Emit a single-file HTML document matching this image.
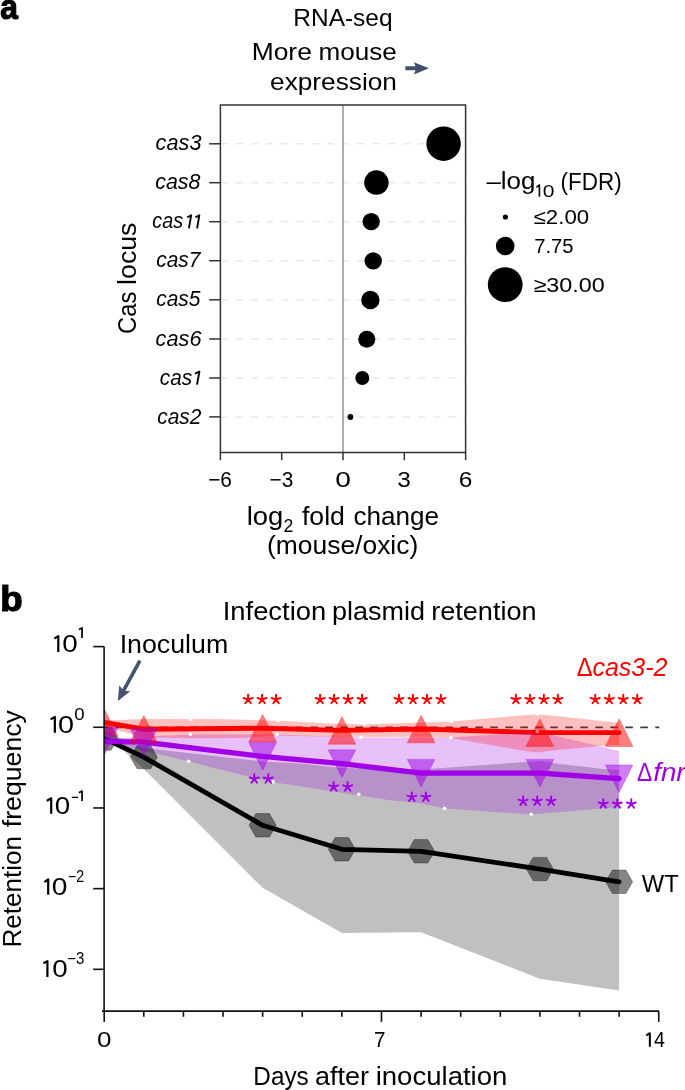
<!DOCTYPE html>
<html><head><meta charset="utf-8"><style>
html,body{margin:0;padding:0;background:#fff;width:685px;height:1090px;overflow:hidden}
svg{display:block;will-change:transform}
text{font-family:"Liberation Sans",sans-serif}
</style></head><body>
<svg width="685" height="1090" viewBox="0 0 685 1090">
<rect width="685" height="1090" fill="#fff"/>
<line x1="220.4" y1="143.8" x2="465.6" y2="143.8" stroke="#e9e9e9" stroke-width="1.5" stroke-dasharray="7.4 7.8"/>
<line x1="220.4" y1="182.7" x2="465.6" y2="182.7" stroke="#e9e9e9" stroke-width="1.5" stroke-dasharray="7.4 7.8"/>
<line x1="220.4" y1="221.7" x2="465.6" y2="221.7" stroke="#e9e9e9" stroke-width="1.5" stroke-dasharray="7.4 7.8"/>
<line x1="220.4" y1="260.7" x2="465.6" y2="260.7" stroke="#e9e9e9" stroke-width="1.5" stroke-dasharray="7.4 7.8"/>
<line x1="220.4" y1="299.8" x2="465.6" y2="299.8" stroke="#e9e9e9" stroke-width="1.5" stroke-dasharray="7.4 7.8"/>
<line x1="220.4" y1="339.0" x2="465.6" y2="339.0" stroke="#e9e9e9" stroke-width="1.5" stroke-dasharray="7.4 7.8"/>
<line x1="220.4" y1="378.0" x2="465.6" y2="378.0" stroke="#e9e9e9" stroke-width="1.5" stroke-dasharray="7.4 7.8"/>
<line x1="220.4" y1="416.9" x2="465.6" y2="416.9" stroke="#e9e9e9" stroke-width="1.5" stroke-dasharray="7.4 7.8"/>
<line x1="343" y1="105.0" x2="343" y2="452.5" stroke="#9a9a9a" stroke-width="1.6"/>
<rect x="220.4" y="105.0" width="245.20000000000002" height="347.5" fill="none" stroke="#333" stroke-width="1.5"/>
<line x1="209.2" y1="143.8" x2="220.4" y2="143.8" stroke="#333" stroke-width="1.5"/>
<line x1="209.2" y1="182.7" x2="220.4" y2="182.7" stroke="#333" stroke-width="1.5"/>
<line x1="209.2" y1="221.7" x2="220.4" y2="221.7" stroke="#333" stroke-width="1.5"/>
<line x1="209.2" y1="260.7" x2="220.4" y2="260.7" stroke="#333" stroke-width="1.5"/>
<line x1="209.2" y1="299.8" x2="220.4" y2="299.8" stroke="#333" stroke-width="1.5"/>
<line x1="209.2" y1="339.0" x2="220.4" y2="339.0" stroke="#333" stroke-width="1.5"/>
<line x1="209.2" y1="378.0" x2="220.4" y2="378.0" stroke="#333" stroke-width="1.5"/>
<line x1="209.2" y1="416.9" x2="220.4" y2="416.9" stroke="#333" stroke-width="1.5"/>
<line x1="220.4" y1="452.5" x2="220.4" y2="460.2" stroke="#333" stroke-width="1.5"/>
<line x1="281.7" y1="452.5" x2="281.7" y2="460.2" stroke="#333" stroke-width="1.5"/>
<line x1="343.0" y1="452.5" x2="343.0" y2="460.2" stroke="#333" stroke-width="1.5"/>
<line x1="404.3" y1="452.5" x2="404.3" y2="460.2" stroke="#333" stroke-width="1.5"/>
<line x1="465.6" y1="452.5" x2="465.6" y2="460.2" stroke="#333" stroke-width="1.5"/>
<circle cx="443.6" cy="143.7" r="17.2" fill="#000"/>
<circle cx="376.4" cy="182.6" r="12.25" fill="#000"/>
<circle cx="371.2" cy="221.6" r="8.7" fill="#000"/>
<circle cx="373.2" cy="260.9" r="8.7" fill="#000"/>
<circle cx="370.4" cy="300.0" r="9.2" fill="#000"/>
<circle cx="366.8" cy="339.2" r="8.5" fill="#000"/>
<circle cx="362.3" cy="378.0" r="7.0" fill="#000"/>
<circle cx="350.4" cy="417.0" r="2.9" fill="#000"/>
<circle cx="505.4" cy="217.0" r="2.6" fill="#000"/>
<circle cx="505.2" cy="246.0" r="9.3" fill="#000"/>
<circle cx="505.2" cy="284.6" r="17.4" fill="#000"/>
<path d="M405.4,66.3 L415.5,66.3 L413.9,62.3 L428.9,68.3 L413.9,74.4 L415.5,70.3 L405.4,70.3 Z" fill="#415068"/>
<defs><clipPath id="cb"><rect x="104.2" y="600" width="560" height="411"/></clipPath></defs>
<g clip-path="url(#cb)">
<line x1="104.2" y1="727.28" x2="659.3" y2="727.28" stroke="#3c3c3c" stroke-width="1.8" stroke-dasharray="7.6 7.4" stroke-dashoffset="3.9"/>
<polygon points="104.2,731.0 143.8,748.0 262.6,761.5 300.0,763.5 341.9,768.0 421.1,769.5 539.9,761.0 560.0,764.0 605.5,769.2 619.1,770.1 619.1,990.4 539.9,978.8 421.1,932.2 341.9,933.1 262.6,887.8 143.8,769.0 104.2,733.0" fill="#c0c0c0" fill-opacity="1"/>
<polyline points="104.2,722.5 143.8,729.2 262.6,728.2 341.9,730.4 421.1,729.0 539.9,732.6 619.1,732.6" fill="none" stroke="#ff0000" stroke-width="4.9" stroke-linejoin="round" stroke-linecap="round"/>
<polygon points="104.2,739.0 190.4,734.2 277.1,734.5 361.0,737.4 450.0,737.5 504.0,734.0 537.3,731.6 584.0,742.4 619.1,751.0 619.1,807.0 531.2,814.4 444.5,808.4 421.1,803.2 390.0,800.3 300.0,786.2 272.8,782.3 240.0,774.6 205.0,765.8 188.7,761.3 130.0,747.5 104.2,743.0" fill="#a000e6" fill-opacity="0.25"/>
<polygon points="104.2,720.5 143.8,719.0 215.0,719.0 277.4,720.7 330.0,723.4 364.4,724.3 424.0,722.5 451.4,721.4 504.0,716.9 537.9,714.3 584.0,719.0 619.1,723.1 619.1,744.7 595.0,746.6 560.0,749.8 536.0,752.6 504.0,747.6 450.9,737.9 424.0,736.8 344.0,737.0 277.3,735.6 240.0,738.0 190.4,738.3 143.8,737.2 104.2,727.0" fill="#ff0000" fill-opacity="0.25"/>
<polyline points="104.2,738.5 143.8,757.1 262.6,825.3 341.9,849.3 421.1,851.3 539.9,869.1 619.1,881.8" fill="none" stroke="#000" stroke-width="4.85" stroke-linejoin="round" stroke-linecap="round"/>
<polygon points="117.7,738.5 111.0,750.2 97.5,750.2 90.7,738.5 97.5,726.8 111.0,726.8" fill="#000" fill-opacity="0.47" stroke="#000" stroke-opacity="0.3" stroke-width="1"/>
<polygon points="157.3,757.1 150.6,768.8 137.1,768.8 130.3,757.1 137.1,745.4 150.6,745.4" fill="#000" fill-opacity="0.47" stroke="#000" stroke-opacity="0.3" stroke-width="1"/>
<polygon points="276.1,825.3 269.4,837.0 255.9,837.0 249.1,825.3 255.9,813.6 269.4,813.6" fill="#000" fill-opacity="0.47" stroke="#000" stroke-opacity="0.3" stroke-width="1"/>
<polygon points="355.4,849.3 348.6,861.0 335.1,861.0 328.4,849.3 335.1,837.6 348.6,837.6" fill="#000" fill-opacity="0.47" stroke="#000" stroke-opacity="0.3" stroke-width="1"/>
<polygon points="434.6,851.3 427.8,863.0 414.3,863.0 407.6,851.3 414.3,839.6 427.8,839.6" fill="#000" fill-opacity="0.47" stroke="#000" stroke-opacity="0.3" stroke-width="1"/>
<polygon points="553.4,869.1 546.7,880.8 533.2,880.8 526.4,869.1 533.2,857.4 546.7,857.4" fill="#000" fill-opacity="0.47" stroke="#000" stroke-opacity="0.3" stroke-width="1"/>
<polygon points="632.6,881.8 625.9,893.5 612.4,893.5 605.6,881.8 612.4,870.1 625.9,870.1" fill="#000" fill-opacity="0.47" stroke="#000" stroke-opacity="0.3" stroke-width="1"/>
<polyline points="104.2,741.4 143.8,742.2 262.6,756.4 341.9,763.6 421.1,773.2 539.9,773.2 619.1,778.7" fill="none" stroke="#a000e6" stroke-width="5.2" stroke-linejoin="round" stroke-linecap="round"/>
<circle cx="190.9" cy="719.4" r="1.8" fill="#fff"/>
<circle cx="278.0" cy="720.8" r="1.8" fill="#fff"/>
<circle cx="364.4" cy="724.3" r="1.8" fill="#fff"/>
<circle cx="451.4" cy="721.4" r="1.8" fill="#fff"/>
<circle cx="537.9" cy="714.3" r="1.8" fill="#fff"/>
<circle cx="361.0" cy="737.4" r="1.8" fill="#fff"/>
<circle cx="450.9" cy="737.7" r="1.8" fill="#fff"/>
<circle cx="190.4" cy="734.2" r="1.8" fill="#fff"/>
<circle cx="277.1" cy="734.5" r="1.8" fill="#fff"/>
<circle cx="537.3" cy="731.6" r="1.8" fill="#fff"/>
<circle cx="188.7" cy="761.3" r="1.8" fill="#fff"/>
<circle cx="273.0" cy="781.9" r="1.8" fill="#fff"/>
<circle cx="358.8" cy="794.2" r="1.8" fill="#fff"/>
<circle cx="444.5" cy="808.4" r="1.8" fill="#fff"/>
<circle cx="531.2" cy="814.3" r="1.8" fill="#fff"/>
<polygon points="104.2,708.7 90.4,736.3 118.0,736.3" fill="#ff0000" fill-opacity="0.5" stroke="#ff0000" stroke-opacity="0.3" stroke-width="1" stroke-linejoin="miter"/>
<polygon points="143.8,715.4 130.0,743.0 157.6,743.0" fill="#ff0000" fill-opacity="0.5" stroke="#ff0000" stroke-opacity="0.3" stroke-width="1" stroke-linejoin="miter"/>
<polygon points="262.6,714.4 248.8,742.0 276.4,742.0" fill="#ff0000" fill-opacity="0.5" stroke="#ff0000" stroke-opacity="0.3" stroke-width="1" stroke-linejoin="miter"/>
<polygon points="341.9,716.6 328.1,744.2 355.7,744.2" fill="#ff0000" fill-opacity="0.5" stroke="#ff0000" stroke-opacity="0.3" stroke-width="1" stroke-linejoin="miter"/>
<polygon points="421.1,715.2 407.3,742.8 434.9,742.8" fill="#ff0000" fill-opacity="0.5" stroke="#ff0000" stroke-opacity="0.3" stroke-width="1" stroke-linejoin="miter"/>
<polygon points="539.9,718.8 526.1,746.4 553.7,746.4" fill="#ff0000" fill-opacity="0.5" stroke="#ff0000" stroke-opacity="0.3" stroke-width="1" stroke-linejoin="miter"/>
<polygon points="619.1,718.8 605.3,746.4 632.9,746.4" fill="#ff0000" fill-opacity="0.5" stroke="#ff0000" stroke-opacity="0.3" stroke-width="1" stroke-linejoin="miter"/>
<polygon points="104.2,755.2 90.4,727.6 118.0,727.6" fill="#a000e6" fill-opacity="0.5" stroke="#a000e6" stroke-opacity="0.3" stroke-width="1" stroke-linejoin="miter"/>
<polygon points="143.8,756.0 130.0,728.4 157.6,728.4" fill="#a000e6" fill-opacity="0.5" stroke="#a000e6" stroke-opacity="0.3" stroke-width="1" stroke-linejoin="miter"/>
<polygon points="262.6,770.2 248.8,742.6 276.4,742.6" fill="#a000e6" fill-opacity="0.5" stroke="#a000e6" stroke-opacity="0.3" stroke-width="1" stroke-linejoin="miter"/>
<polygon points="341.9,777.4 328.1,749.8 355.7,749.8" fill="#a000e6" fill-opacity="0.5" stroke="#a000e6" stroke-opacity="0.3" stroke-width="1" stroke-linejoin="miter"/>
<polygon points="421.1,787.0 407.3,759.4 434.9,759.4" fill="#a000e6" fill-opacity="0.5" stroke="#a000e6" stroke-opacity="0.3" stroke-width="1" stroke-linejoin="miter"/>
<polygon points="539.9,787.0 526.1,759.4 553.7,759.4" fill="#a000e6" fill-opacity="0.5" stroke="#a000e6" stroke-opacity="0.3" stroke-width="1" stroke-linejoin="miter"/>
<polygon points="619.1,792.5 605.3,764.9 632.9,764.9" fill="#a000e6" fill-opacity="0.5" stroke="#a000e6" stroke-opacity="0.3" stroke-width="1" stroke-linejoin="miter"/>
</g>
<line x1="104.1" y1="646.6" x2="104.1" y2="1011.8" stroke="#111" stroke-width="1.6"/>
<line x1="102" y1="1011.1" x2="659" y2="1011.1" stroke="#111" stroke-width="1.6"/>
<line x1="93.2" y1="646.60" x2="104.1" y2="646.60" stroke="#111" stroke-width="1.6"/>
<line x1="93.2" y1="727.28" x2="104.1" y2="727.28" stroke="#111" stroke-width="1.6"/>
<line x1="93.2" y1="807.96" x2="104.1" y2="807.96" stroke="#111" stroke-width="1.6"/>
<line x1="93.2" y1="888.64" x2="104.1" y2="888.64" stroke="#111" stroke-width="1.6"/>
<line x1="93.2" y1="969.32" x2="104.1" y2="969.32" stroke="#111" stroke-width="1.6"/>
<line x1="104.20" y1="1011" x2="104.20" y2="1021.90" stroke="#111" stroke-width="1.6"/>
<line x1="143.81" y1="1011" x2="143.81" y2="1016.80" stroke="#111" stroke-width="1.6"/>
<line x1="183.42" y1="1011" x2="183.42" y2="1016.80" stroke="#111" stroke-width="1.6"/>
<line x1="223.03" y1="1011" x2="223.03" y2="1016.80" stroke="#111" stroke-width="1.6"/>
<line x1="262.64" y1="1011" x2="262.64" y2="1016.80" stroke="#111" stroke-width="1.6"/>
<line x1="302.25" y1="1011" x2="302.25" y2="1016.80" stroke="#111" stroke-width="1.6"/>
<line x1="341.86" y1="1011" x2="341.86" y2="1016.80" stroke="#111" stroke-width="1.6"/>
<line x1="381.47" y1="1011" x2="381.47" y2="1021.90" stroke="#111" stroke-width="1.6"/>
<line x1="421.08" y1="1011" x2="421.08" y2="1016.80" stroke="#111" stroke-width="1.6"/>
<line x1="460.69" y1="1011" x2="460.69" y2="1016.80" stroke="#111" stroke-width="1.6"/>
<line x1="500.30" y1="1011" x2="500.30" y2="1016.80" stroke="#111" stroke-width="1.6"/>
<line x1="539.91" y1="1011" x2="539.91" y2="1016.80" stroke="#111" stroke-width="1.6"/>
<line x1="579.52" y1="1011" x2="579.52" y2="1016.80" stroke="#111" stroke-width="1.6"/>
<line x1="619.13" y1="1011" x2="619.13" y2="1016.80" stroke="#111" stroke-width="1.6"/>
<line x1="658.74" y1="1011" x2="658.74" y2="1021.90" stroke="#111" stroke-width="1.6"/>
<path d="M117.80,701.10 L119.26,685.27 L122.26,689.18 L138.32,659.74 L141.48,661.46 L125.42,690.90 L130.32,691.30 Z" fill="#44546d"/>
<text x="0.29" y="18.70" font-size="35" font-weight="bold" fill="#000" textLength="17.62" lengthAdjust="spacingAndGlyphs" stroke="#000" stroke-width="1.2" stroke-linejoin="round">a</text>
<text x="293.36" y="26.00" font-size="24" fill="#000" textLength="99.12" lengthAdjust="spacingAndGlyphs">RNA-seq</text>
<text x="251.70" y="59.50" font-size="24" fill="#000" textLength="60.16" lengthAdjust="spacingAndGlyphs">More</text>
<text x="318.53" y="59.50" font-size="24" fill="#000" textLength="78.31" lengthAdjust="spacingAndGlyphs">mouse</text>
<text x="270.11" y="89.80" font-size="24" fill="#000" textLength="126.75" lengthAdjust="spacingAndGlyphs">expression</text>
<text x="155.61" y="150.40" font-size="22" font-style="italic" fill="#000" textLength="45.86" lengthAdjust="spacingAndGlyphs">cas3</text>
<text x="155.23" y="189.30" font-size="22" font-style="italic" fill="#000" textLength="45.27" lengthAdjust="spacingAndGlyphs">cas8</text>
<text x="156.25" y="267.30" font-size="22" font-style="italic" fill="#000" textLength="44.26" lengthAdjust="spacingAndGlyphs">cas7</text>
<text x="156.25" y="306.40" font-size="22" font-style="italic" fill="#000" textLength="44.26" lengthAdjust="spacingAndGlyphs">cas5</text>
<text x="155.61" y="345.60" font-size="22" font-style="italic" fill="#000" textLength="45.86" lengthAdjust="spacingAndGlyphs">cas6</text>
<text x="157.25" y="423.50" font-size="22" font-style="italic" fill="#000" textLength="44.21" lengthAdjust="spacingAndGlyphs">cas2</text>
<text x="152.30" y="228.30" font-size="22" font-style="italic" fill="#000" textLength="30.83" lengthAdjust="spacingAndGlyphs">cas</text>
<text x="159.86" y="384.60" font-size="22" font-style="italic" fill="#000" textLength="32.28" lengthAdjust="spacingAndGlyphs">cas</text>
<text x="208.13" y="487.00" font-size="21.5" fill="#000" textLength="23.77" lengthAdjust="spacingAndGlyphs">−6</text>
<text x="269.53" y="487.00" font-size="21.5" fill="#000" textLength="23.66" lengthAdjust="spacingAndGlyphs">−3</text>
<text x="335.29" y="487.00" font-size="21.5" fill="#000" textLength="15.68" lengthAdjust="spacingAndGlyphs">0</text>
<text x="397.36" y="487.00" font-size="21.5" fill="#000" textLength="13.64" lengthAdjust="spacingAndGlyphs">3</text>
<text x="458.66" y="487.00" font-size="21.5" fill="#000" textLength="13.64" lengthAdjust="spacingAndGlyphs">6</text>
<text x="246.71" y="524.50" font-size="25" fill="#000" textLength="36.60" lengthAdjust="spacingAndGlyphs">log</text>
<text x="283.44" y="531.50" font-size="18.5" fill="#000" textLength="9.84" lengthAdjust="spacingAndGlyphs">2</text>
<text x="301.90" y="524.50" font-size="25" fill="#000" textLength="43.00" lengthAdjust="spacingAndGlyphs">fold</text>
<text x="353.46" y="524.50" font-size="25" fill="#000" textLength="85.62" lengthAdjust="spacingAndGlyphs">change</text>
<text x="267.04" y="553.60" font-size="25" fill="#000" textLength="151.21" lengthAdjust="spacingAndGlyphs">(mouse/oxic)</text>
<text x="486.40" y="189.30" font-size="23" fill="#000" textLength="49.08" lengthAdjust="spacingAndGlyphs">–log</text>
<text x="542.76" y="196.60" font-size="17" fill="#000" textLength="11.72" lengthAdjust="spacingAndGlyphs">0</text>
<text x="560.52" y="189.50" font-size="23" fill="#000" textLength="61.13" lengthAdjust="spacingAndGlyphs">(FDR)</text>
<text x="533.61" y="223.70" font-size="20.5" fill="#000" textLength="55.56" lengthAdjust="spacingAndGlyphs">≤2.00</text>
<text x="534.21" y="252.60" font-size="20.5" fill="#000" textLength="39.38" lengthAdjust="spacingAndGlyphs">7.75</text>
<text x="533.56" y="292.00" font-size="20.5" fill="#000" textLength="71.28" lengthAdjust="spacingAndGlyphs">≥30.00</text>
<text x="0.30" y="610.90" font-size="35" font-weight="bold" fill="#000" textLength="22.46" lengthAdjust="spacingAndGlyphs" stroke="#000" stroke-width="1.2" stroke-linejoin="round">b</text>
<text x="222.71" y="619.80" font-size="25" fill="#000" textLength="103.45" lengthAdjust="spacingAndGlyphs">Infection</text>
<text x="332.04" y="619.80" font-size="25" fill="#000" textLength="93.01" lengthAdjust="spacingAndGlyphs">plasmid</text>
<text x="431.23" y="619.80" font-size="25" fill="#000" textLength="105.37" lengthAdjust="spacingAndGlyphs">retention</text>
<text x="119.66" y="652.80" font-size="25" fill="#000" textLength="108.60" lengthAdjust="spacingAndGlyphs">Inoculum</text>
<text x="62.17" y="651.60" font-size="24.5" fill="#000" textLength="15.46" lengthAdjust="spacingAndGlyphs">0</text>
<text x="58.03" y="732.50" font-size="24.5" fill="#000" textLength="16.03" lengthAdjust="spacingAndGlyphs">0</text>
<text x="54.87" y="813.50" font-size="24.5" fill="#000" textLength="15.46" lengthAdjust="spacingAndGlyphs">0</text>
<text x="51.85" y="894.50" font-size="24.5" fill="#000" textLength="15.69" lengthAdjust="spacingAndGlyphs">0</text>
<text x="52.17" y="976.60" font-size="24.5" fill="#000" textLength="15.46" lengthAdjust="spacingAndGlyphs">0</text>
<text x="74.34" y="720.10" font-size="16" fill="#000" textLength="10.31" lengthAdjust="spacingAndGlyphs">0</text>
<text x="68.12" y="882.30" font-size="16" fill="#000" textLength="16.10" lengthAdjust="spacingAndGlyphs">−2</text>
<text x="67.16" y="964.30" font-size="16" fill="#000" textLength="17.07" lengthAdjust="spacingAndGlyphs">−3</text>
<text x="97.09" y="1047.00" font-size="21.5" fill="#000" textLength="14.48" lengthAdjust="spacingAndGlyphs">0</text>
<text x="373.94" y="1047.00" font-size="21.5" fill="#000" textLength="11.49" lengthAdjust="spacingAndGlyphs">7</text>
<text x="654.00" y="1046.70" font-size="21.5" fill="#000" textLength="10.97" lengthAdjust="spacingAndGlyphs">4</text>
<text x="253.36" y="1085.10" font-size="25" fill="#000" textLength="55.39" lengthAdjust="spacingAndGlyphs">Days</text>
<text x="314.92" y="1085.10" font-size="25" fill="#000" textLength="54.12" lengthAdjust="spacingAndGlyphs">after</text>
<text x="375.70" y="1085.10" font-size="25" fill="#000" textLength="131.69" lengthAdjust="spacingAndGlyphs">inoculation</text>
<text x="641.80" y="892.10" font-size="24" fill="#000" textLength="36.81" lengthAdjust="spacingAndGlyphs">WT</text>
<text x="576.65" y="676.10" font-size="25" fill="#ff0000" textLength="15.81" lengthAdjust="spacingAndGlyphs">Δ</text>
<text x="592.50" y="676.10" font-size="25" font-style="italic" fill="#ff0000" textLength="74.95" lengthAdjust="spacingAndGlyphs">cas3-2</text>
<text x="637.09" y="780.80" font-size="25" fill="#a000e6" textLength="15.26" lengthAdjust="spacingAndGlyphs">Δ</text>
<text x="653.19" y="780.80" font-size="25" font-style="italic" fill="#a000e6" textLength="32.41" lengthAdjust="spacingAndGlyphs">fnr</text>
<text transform="translate(136.00,333.00) rotate(-90)" x="-0.93" y="0" font-size="25.5" fill="#000" textLength="42.27" lengthAdjust="spacingAndGlyphs">Cas</text>
<text transform="translate(136.00,282.80) rotate(-90)" x="-2.09" y="0" font-size="25.5" fill="#000" textLength="62.35" lengthAdjust="spacingAndGlyphs">locus</text>
<text transform="translate(21.00,945.50) rotate(-90)" x="-2.04" y="0" font-size="25.5" fill="#000" textLength="111.54" lengthAdjust="spacingAndGlyphs">Retention</text>
<text transform="translate(21.00,827.20) rotate(-90)" x="0.00" y="0" font-size="25.5" fill="#000" textLength="117.10" lengthAdjust="spacingAndGlyphs">frequency</text>
<path d="M187.30,217.40L191.20,215.20L188.90,228.30" fill="none" stroke="#000" stroke-width="1.85" stroke-linejoin="round" stroke-linecap="butt"/>
<path d="M195.50,217.40L199.40,215.20L197.10,228.30" fill="none" stroke="#000" stroke-width="1.85" stroke-linejoin="round" stroke-linecap="butt"/>
<path d="M195.00,373.70L199.40,371.50L197.00,384.60" fill="none" stroke="#000" stroke-width="1.85" stroke-linejoin="round" stroke-linecap="butt"/>
<path d="M536.46,187.30L539.40,185.00L539.40,196.70" fill="none" stroke="#000" stroke-width="1.6" stroke-linejoin="round" stroke-linecap="butt"/>
<path d="M54.27,638.50L58.30,636.10L58.30,651.90" fill="none" stroke="#000" stroke-width="2.2" stroke-linejoin="round" stroke-linecap="butt"/>
<path d="M50.57,719.40L54.85,717.00L54.85,732.80" fill="none" stroke="#000" stroke-width="2.2" stroke-linejoin="round" stroke-linecap="butt"/>
<path d="M46.67,800.90L51.20,798.30L51.20,813.80" fill="none" stroke="#000" stroke-width="2.2" stroke-linejoin="round" stroke-linecap="butt"/>
<path d="M44.37,882.10L48.20,879.30L48.20,894.80" fill="none" stroke="#000" stroke-width="2.2" stroke-linejoin="round" stroke-linecap="butt"/>
<path d="M43.37,963.30L47.40,961.10L47.40,976.90" fill="none" stroke="#000" stroke-width="2.2" stroke-linejoin="round" stroke-linecap="butt"/>
<path d="M78.89,629.50L82.05,627.95L82.05,637.90" fill="none" stroke="#000" stroke-width="1.7" stroke-linejoin="round" stroke-linecap="butt"/>
<path d="M78.89,792.70L82.05,791.05L82.05,800.90" fill="none" stroke="#000" stroke-width="1.7" stroke-linejoin="round" stroke-linecap="butt"/>
<path d="M646.20,1035.50L649.85,1033.20L649.85,1046.70" fill="none" stroke="#000" stroke-width="2.0" stroke-linejoin="round" stroke-linecap="butt"/>
<line x1="71.8" y1="797.4" x2="78.1" y2="797.4" stroke="#000" stroke-width="1.4"/>
<path d="M248.05,699.50L248.05,694.80M248.05,699.50L252.52,698.05M248.05,699.50L250.81,703.30M248.05,699.50L245.29,703.30M248.05,699.50L243.58,698.05" stroke="#ff0000" stroke-width="1.95" stroke-linecap="round" fill="none"/>
<path d="M262.05,699.50L262.05,694.80M262.05,699.50L266.52,698.05M262.05,699.50L264.81,703.30M262.05,699.50L259.29,703.30M262.05,699.50L257.58,698.05" stroke="#ff0000" stroke-width="1.95" stroke-linecap="round" fill="none"/>
<path d="M276.05,699.50L276.05,694.80M276.05,699.50L280.52,698.05M276.05,699.50L278.81,703.30M276.05,699.50L273.29,703.30M276.05,699.50L271.58,698.05" stroke="#ff0000" stroke-width="1.95" stroke-linecap="round" fill="none"/>
<path d="M320.05,699.50L320.05,694.80M320.05,699.50L324.52,698.05M320.05,699.50L322.81,703.30M320.05,699.50L317.29,703.30M320.05,699.50L315.58,698.05" stroke="#ff0000" stroke-width="1.95" stroke-linecap="round" fill="none"/>
<path d="M334.05,699.50L334.05,694.80M334.05,699.50L338.52,698.05M334.05,699.50L336.81,703.30M334.05,699.50L331.29,703.30M334.05,699.50L329.58,698.05" stroke="#ff0000" stroke-width="1.95" stroke-linecap="round" fill="none"/>
<path d="M348.05,699.50L348.05,694.80M348.05,699.50L352.52,698.05M348.05,699.50L350.81,703.30M348.05,699.50L345.29,703.30M348.05,699.50L343.58,698.05" stroke="#ff0000" stroke-width="1.95" stroke-linecap="round" fill="none"/>
<path d="M362.05,699.50L362.05,694.80M362.05,699.50L366.52,698.05M362.05,699.50L364.81,703.30M362.05,699.50L359.29,703.30M362.05,699.50L357.58,698.05" stroke="#ff0000" stroke-width="1.95" stroke-linecap="round" fill="none"/>
<path d="M398.95,699.50L398.95,694.80M398.95,699.50L403.42,698.05M398.95,699.50L401.71,703.30M398.95,699.50L396.19,703.30M398.95,699.50L394.48,698.05" stroke="#ff0000" stroke-width="1.95" stroke-linecap="round" fill="none"/>
<path d="M412.95,699.50L412.95,694.80M412.95,699.50L417.42,698.05M412.95,699.50L415.71,703.30M412.95,699.50L410.19,703.30M412.95,699.50L408.48,698.05" stroke="#ff0000" stroke-width="1.95" stroke-linecap="round" fill="none"/>
<path d="M426.95,699.50L426.95,694.80M426.95,699.50L431.42,698.05M426.95,699.50L429.71,703.30M426.95,699.50L424.19,703.30M426.95,699.50L422.48,698.05" stroke="#ff0000" stroke-width="1.95" stroke-linecap="round" fill="none"/>
<path d="M440.95,699.50L440.95,694.80M440.95,699.50L445.42,698.05M440.95,699.50L443.71,703.30M440.95,699.50L438.19,703.30M440.95,699.50L436.48,698.05" stroke="#ff0000" stroke-width="1.95" stroke-linecap="round" fill="none"/>
<path d="M515.85,699.50L515.85,694.80M515.85,699.50L520.32,698.05M515.85,699.50L518.61,703.30M515.85,699.50L513.09,703.30M515.85,699.50L511.38,698.05" stroke="#ff0000" stroke-width="1.95" stroke-linecap="round" fill="none"/>
<path d="M529.85,699.50L529.85,694.80M529.85,699.50L534.32,698.05M529.85,699.50L532.61,703.30M529.85,699.50L527.09,703.30M529.85,699.50L525.38,698.05" stroke="#ff0000" stroke-width="1.95" stroke-linecap="round" fill="none"/>
<path d="M543.85,699.50L543.85,694.80M543.85,699.50L548.32,698.05M543.85,699.50L546.61,703.30M543.85,699.50L541.09,703.30M543.85,699.50L539.38,698.05" stroke="#ff0000" stroke-width="1.95" stroke-linecap="round" fill="none"/>
<path d="M557.85,699.50L557.85,694.80M557.85,699.50L562.32,698.05M557.85,699.50L560.61,703.30M557.85,699.50L555.09,703.30M557.85,699.50L553.38,698.05" stroke="#ff0000" stroke-width="1.95" stroke-linecap="round" fill="none"/>
<path d="M595.25,699.50L595.25,694.80M595.25,699.50L599.72,698.05M595.25,699.50L598.01,703.30M595.25,699.50L592.49,703.30M595.25,699.50L590.78,698.05" stroke="#ff0000" stroke-width="1.95" stroke-linecap="round" fill="none"/>
<path d="M609.25,699.50L609.25,694.80M609.25,699.50L613.72,698.05M609.25,699.50L612.01,703.30M609.25,699.50L606.49,703.30M609.25,699.50L604.78,698.05" stroke="#ff0000" stroke-width="1.95" stroke-linecap="round" fill="none"/>
<path d="M623.25,699.50L623.25,694.80M623.25,699.50L627.72,698.05M623.25,699.50L626.01,703.30M623.25,699.50L620.49,703.30M623.25,699.50L618.78,698.05" stroke="#ff0000" stroke-width="1.95" stroke-linecap="round" fill="none"/>
<path d="M637.25,699.50L637.25,694.80M637.25,699.50L641.72,698.05M637.25,699.50L640.01,703.30M637.25,699.50L634.49,703.30M637.25,699.50L632.78,698.05" stroke="#ff0000" stroke-width="1.95" stroke-linecap="round" fill="none"/>
<path d="M254.25,779.00L254.25,774.30M254.25,779.00L258.72,777.55M254.25,779.00L257.01,782.80M254.25,779.00L251.49,782.80M254.25,779.00L249.78,777.55" stroke="#a000e6" stroke-width="1.95" stroke-linecap="round" fill="none"/>
<path d="M268.25,779.00L268.25,774.30M268.25,779.00L272.72,777.55M268.25,779.00L271.01,782.80M268.25,779.00L265.49,782.80M268.25,779.00L263.78,777.55" stroke="#a000e6" stroke-width="1.95" stroke-linecap="round" fill="none"/>
<path d="M333.65,786.80L333.65,782.10M333.65,786.80L338.12,785.35M333.65,786.80L336.41,790.60M333.65,786.80L330.89,790.60M333.65,786.80L329.18,785.35" stroke="#a000e6" stroke-width="1.95" stroke-linecap="round" fill="none"/>
<path d="M347.65,786.80L347.65,782.10M347.65,786.80L352.12,785.35M347.65,786.80L350.41,790.60M347.65,786.80L344.89,790.60M347.65,786.80L343.18,785.35" stroke="#a000e6" stroke-width="1.95" stroke-linecap="round" fill="none"/>
<path d="M411.85,797.10L411.85,792.40M411.85,797.10L416.32,795.65M411.85,797.10L414.61,800.90M411.85,797.10L409.09,800.90M411.85,797.10L407.38,795.65" stroke="#a000e6" stroke-width="1.95" stroke-linecap="round" fill="none"/>
<path d="M425.85,797.10L425.85,792.40M425.85,797.10L430.32,795.65M425.85,797.10L428.61,800.90M425.85,797.10L423.09,800.90M425.85,797.10L421.38,795.65" stroke="#a000e6" stroke-width="1.95" stroke-linecap="round" fill="none"/>
<path d="M523.15,801.10L523.15,796.40M523.15,801.10L527.62,799.65M523.15,801.10L525.91,804.90M523.15,801.10L520.39,804.90M523.15,801.10L518.68,799.65" stroke="#a000e6" stroke-width="1.95" stroke-linecap="round" fill="none"/>
<path d="M537.15,801.10L537.15,796.40M537.15,801.10L541.62,799.65M537.15,801.10L539.91,804.90M537.15,801.10L534.39,804.90M537.15,801.10L532.68,799.65" stroke="#a000e6" stroke-width="1.95" stroke-linecap="round" fill="none"/>
<path d="M551.15,801.10L551.15,796.40M551.15,801.10L555.62,799.65M551.15,801.10L553.91,804.90M551.15,801.10L548.39,804.90M551.15,801.10L546.68,799.65" stroke="#a000e6" stroke-width="1.95" stroke-linecap="round" fill="none"/>
<path d="M603.25,803.90L603.25,799.20M603.25,803.90L607.72,802.45M603.25,803.90L606.01,807.70M603.25,803.90L600.49,807.70M603.25,803.90L598.78,802.45" stroke="#a000e6" stroke-width="1.95" stroke-linecap="round" fill="none"/>
<path d="M617.25,803.90L617.25,799.20M617.25,803.90L621.72,802.45M617.25,803.90L620.01,807.70M617.25,803.90L614.49,807.70M617.25,803.90L612.78,802.45" stroke="#a000e6" stroke-width="1.95" stroke-linecap="round" fill="none"/>
<path d="M631.25,803.90L631.25,799.20M631.25,803.90L635.72,802.45M631.25,803.90L634.01,807.70M631.25,803.90L628.49,807.70M631.25,803.90L626.78,802.45" stroke="#a000e6" stroke-width="1.95" stroke-linecap="round" fill="none"/>
</svg>
</body></html>
